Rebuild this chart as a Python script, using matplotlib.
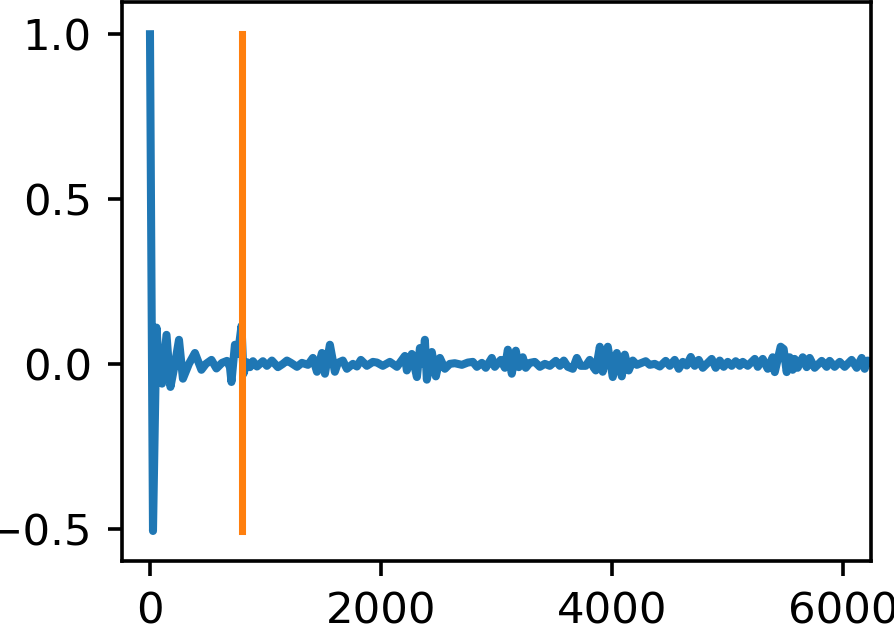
import matplotlib
matplotlib.use("Agg")
import matplotlib.pyplot as plt

# Autocorrelation values (lag, value)
lags = [0, 26, 56, 87, 104, 143, 177, 216, 251, 285, 337, 389, 445, 484, 532, 575,
        623, 666, 692, 705, 735, 761, 792, 809, 839, 865, 891, 926, 977, 1012, 1055,
        1107, 1150, 1185,
        1220, 1272, 1315, 1367, 1410, 1445, 1488, 1514, 1557, 1600, 1626, 1669, 1704,
        1756, 1791, 1825, 1877, 1929, 1964, 2015, 2076, 2137, 2206, 2223, 2266, 2310,
        2336, 2361, 2379, 2396, 2439, 2474, 2509, 2552, 2595, 2638, 2699, 2751, 2794,
        2829, 2872, 2906, 2958, 2984, 3036, 3071, 3097, 3131, 3166, 3192, 3226, 3252,
        3287, 3330, 3374, 3417, 3460, 3512, 3547, 3581, 3616, 3659, 3694, 3728, 3771,
        3806, 3841,
        3858, 3893, 3918, 3962, 4005, 4040, 4083, 4109, 4143, 4178, 4213, 4256, 4290,
        4325, 4368, 4412, 4463, 4498, 4541, 4576, 4611, 4645, 4680, 4714, 4749, 4784,
        4818, 4861, 4896, 4931, 4965, 5000, 5034, 5069, 5104, 5130, 5173, 5234, 5260,
        5303, 5346, 5389, 5407, 5458, 5484, 5510, 5536, 5562, 5579, 5605, 5649, 5683,
        5709, 5752, 5813, 5856, 5882, 5925, 5969, 6012, 6072, 6116, 6159, 6185, 6211,
        6271, 6315]
acf = [1.0, -0.507, 0.11, -0.055, -0.06, 0.088, -0.07, 0.0, 0.073, -0.045, 0.0, 0.033,
       -0.018, 0.0, 0.012, -0.014, 0.003, 0.009, -0.01, -0.055, 0.058, 0.03, 0.115,
       -0.03, 0.005, -0.01, 0.008, -0.008, 0.008, -0.006, 0.01, -0.01, 0.0, 0.01,
       0.003, -0.009, 0.003, -0.003, 0.018, -0.024, 0.033, -0.03, 0.058, -0.024, 0.003,
       0.01, -0.015, 0.0, -0.008, 0.012, -0.006, 0.006, 0.004, -0.006, 0.006, -0.009,
       0.024, -0.02, 0.03, -0.04, 0.048, 0.0, 0.073, -0.048, 0.036, -0.038, 0.018,
       -0.015, 0.0, 0.002, -0.003, 0.004, 0.006, -0.009, 0.003, -0.012, 0.018, -0.009,
       0.012, -0.012, 0.043, -0.03, 0.04, -0.01, 0.02, -0.012, 0.003, 0.006, -0.009,
       0.0, -0.006, 0.009, -0.006, 0.01, -0.009, -0.015, 0.018, -0.006, -0.006, 0.012,
       -0.012,
       -0.02, 0.052, -0.024, 0.052, -0.04, 0.033, -0.038, 0.028, -0.02, 0.01, -0.003,
       0.003, 0.008, -0.003, 0.0, -0.008, 0.009, -0.006, 0.012, -0.015, 0.006, -0.005,
       0.021, -0.006, 0.012, -0.012, 0.0, 0.015, -0.012, 0.01, -0.009, 0.006, -0.006,
       0.008, -0.006, 0.006, -0.006, 0.015, -0.009, 0.015, -0.015, 0.02, -0.025, 0.052,
       0.045, -0.025, 0.02, -0.018, 0.015, -0.012, 0.02, -0.01, 0.018, -0.012, 0.009,
       -0.009, 0.009, -0.009, 0.006, -0.009, 0.012, -0.012, 0.018, -0.015, 0.01,
       -0.005, 0.0]

marker_lag = 792
marker_range = [-0.507, 1.0]

x_ticks = [0, 2000, 4000, 6000]
y_ticks = [-0.5, 0.0, 0.5, 1.0]

fig = plt.figure(figsize=(894 / 290, 624 / 290), dpi=290)
ax = fig.add_axes([0.1361, 0.1010, 0.9743 - 0.1361, 0.99744 - 0.1010])
ax.plot(lags, acf, color="#1f77b4", lw=2.0)
ax.plot([marker_lag, marker_lag], marker_range, color="#ff7f0e", lw=1.75)
ax.set_xlim(-245, 6240)
ax.set_ylim(-0.598, 1.099)
ax.set_xticks(x_ticks)
ax.set_yticks(y_ticks)
for s in ax.spines.values():
    s.set_linewidth(0.9)
ax.tick_params(width=0.9, length=3.6, labelsize=10.8, pad=3.8)
fig.savefig("out.png", dpi=290)
